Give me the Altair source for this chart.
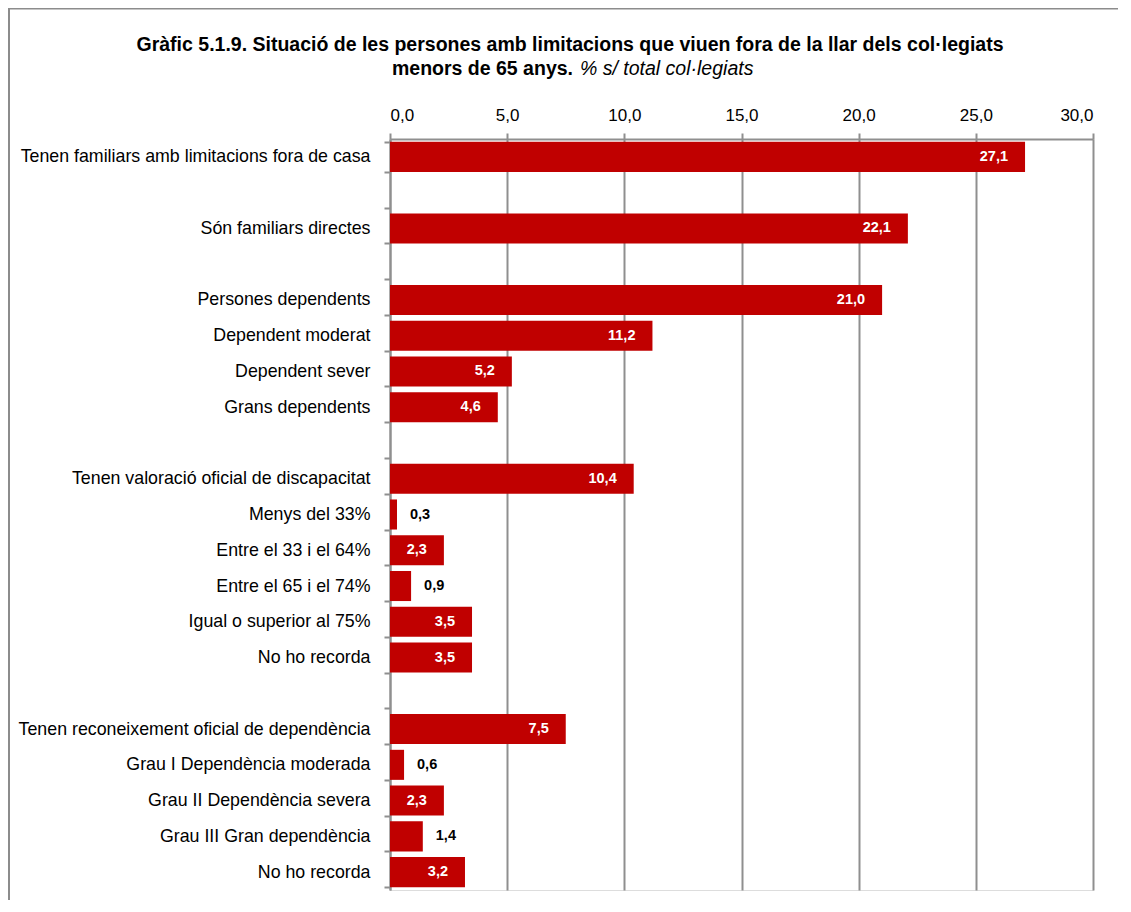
import altair as alt
import pandas as pd

# ---- data ----
labels = [
    "Tenen familiars amb limitacions fora de casa",
    "",
    "Són familiars directes",
    "",
    "Persones dependents",
    "Dependent moderat",
    "Dependent  sever",
    "Grans dependents",
    "",
    "Tenen valoració oficial de discapacitat",
    "Menys del 33%",
    "Entre el 33 i el 64%",
    "Entre el 65 i el 74%",
    "Igual o superior al 75%",
    "No ho recorda",
    "",
    "Tenen reconeixement oficial de dependència",
    "Grau I Dependència moderada",
    "Grau II Dependència severa",
    "Grau III Gran dependència",
    "No ho recorda",
]
values = [27.1, None, 22.1, None, 21.0, 11.2, 5.2, 4.6, None,
          10.4, 0.3, 2.3, 0.9, 3.5, 3.5, None,
          7.5, 0.6, 2.3, 1.4, 3.2]
x_ticks = [0, 5, 10, 15, 20, 25, 30]
title_line1 = "Gràfic 5.1.9. Situació de les persones amb limitacions que viuen fora de la llar dels col·legiats"
title_line2_bold = "menors de 65 anys."
title_line2_italic = "% s/ total col·legiats"

# unique keys: two-digit index prefix + label (prefix stripped in the axis labels)
keys = [f"{i:02d}{lab}" for i, lab in enumerate(labels)]
df = pd.DataFrame({"key": keys, "v": values})

FONT = "Liberation Sans, Arial, sans-serif"
GRID = "#8f8f8f"
RED = "#C00000"

y_scale = alt.Scale(domain=keys, paddingInner=0.16, paddingOuter=0.08)

y_enc = alt.Y(
    "key:N", title=None, scale=y_scale,
    axis=alt.Axis(
        labelExpr="isValid(datum.value) ? substring(datum.value, 2) : ''",
        tickBand="extent", tickSize=6, tickColor=GRID, tickWidth=2,
        domainColor=GRID, domainWidth=2, labelPadding=14,
        labelFontSize=17.8, labelColor="#000000", labelFont=FONT,
        grid=False, labelLimit=500,
    ),
)
x_enc = alt.X(
    "v:Q", title=None,
    scale=alt.Scale(domain=[0, 30], nice=False),
    axis=alt.Axis(
        orient="top", values=x_ticks,
        labelExpr="replace(format(datum.value, '.1f'), '.', ',')",
        tickSize=6, tickColor=GRID, tickWidth=2,
        domainColor=GRID, domainWidth=2,
        grid=True, gridColor=GRID, gridWidth=2,
        labelFontSize=17, labelColor="#000000", labelFont=FONT,
        labelPadding=9,
    ),
)

base = alt.Chart(df).transform_filter("isValid(datum.v)").transform_calculate(
    lab="replace(format(datum.v, '.1f'), '.', ',')"
)

bars = base.mark_bar(color=RED).encode(x=x_enc, y=y_enc)

inside = base.transform_filter("datum.v >= 2").mark_text(
    align="right", baseline="middle", dx=-17, color="white",
    font=FONT, fontSize=14.5, fontWeight="bold",
).encode(x="v:Q", y=alt.Y("key:N", scale=y_scale), text="lab:N")

outside = base.transform_filter("datum.v < 2").mark_text(
    align="left", baseline="middle", dx=13, color="black",
    font=FONT, fontSize=14.5, fontWeight="bold",
).encode(x="v:Q", y=alt.Y("key:N", scale=y_scale), text="lab:N")

one = pd.DataFrame({"t1": [title_line1], "t2b": [title_line2_bold], "t2i": [title_line2_italic]})

t1 = alt.Chart(one).mark_text(
    align="center", baseline="alphabetic", font=FONT, fontSize=19.5, fontWeight="bold", color="black"
).encode(x=alt.value(180), y=alt.value(-88.5), text="t1:N")
t2b = alt.Chart(one).mark_text(
    align="right", baseline="alphabetic", font=FONT, fontSize=19.5, fontWeight="bold", color="black"
).encode(x=alt.value(183), y=alt.value(-64), text="t2b:N")
t2i = alt.Chart(one).mark_text(
    align="left", baseline="alphabetic", font=FONT, fontSize=19.5, fontStyle="italic", color="black"
).encode(x=alt.value(190), y=alt.value(-64), text="t2i:N")

border_left = alt.Chart(one).mark_rule(color="#8c8c8c", strokeWidth=2).encode(
    x=alt.value(-381), y=alt.value(-131), y2=alt.value(770)
)
border_top = alt.Chart(one).mark_rule(color="#8c8c8c", strokeWidth=2).encode(
    x=alt.value(-382), x2=alt.value(740), y=alt.value(-130.5)
)

chart = alt.layer(bars, inside, outside, t1, t2b, t2i, border_left, border_top).properties(
    width=703, height=751,
    autosize=alt.AutoSizeParams(type="none"),
    padding={"left": 382, "top": 131, "right": 25, "bottom": 10},
).configure_view(stroke=None).configure(font=FONT, background="white")

chart.save("out.html", embed_options={"renderer": "svg", "actions": False})
